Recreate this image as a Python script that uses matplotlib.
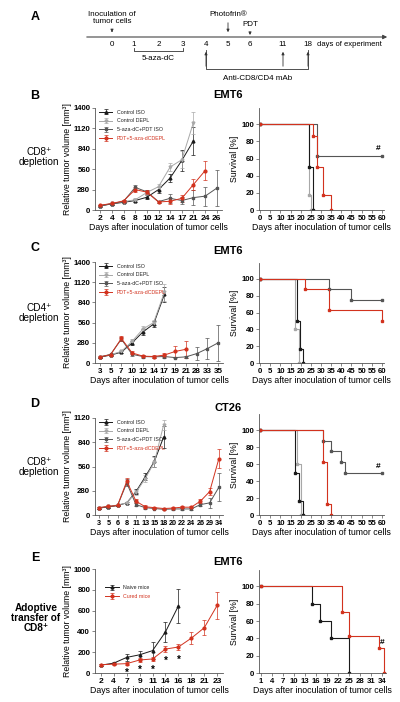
import numpy as np
import matplotlib.pyplot as plt

plt.rcParams['font.family'] = ['Liberation Sans', 'DejaVu Sans']
plt.rcParams['font.weight'] = 'bold'

W, H = 400, 702

# ---------------- data ----------------
# panel A timeline
tl_days = ['0', '1', '2', '3', '4', '5', '6', '11', '18']

# panel B (EMT6, CD8 depletion)
b_days = [2, 4, 6, 8, 10, 12, 14, 17, 21, 24, 26]
b_ctrl_iso = [55, 85, 105, 130, 175, 280, 440, 680, 950]
b_ctrl_iso_err = [10, 10, 15, 20, 25, 40, 60, 150, 190]
b_ctrl_depl = [60, 90, 115, 140, 240, 320, 590, 690, 1200]
b_ctrl_depl_err = [10, 10, 15, 20, 30, 40, 60, 120, 150]
b_aza_iso = [60, 85, 120, 310, 250, 115, 160, 130, 170, 190, 300]
b_aza_iso_err = [10, 10, 15, 30, 30, 15, 60, 50, 100, 130, 250]
b_aza_depl = [65, 90, 125, 280, 245, 110, 120, 160, 350, 540]
b_aza_depl_err = [10, 10, 15, 30, 30, 15, 40, 50, 80, 135]

# panel C (EMT6, CD4 depletion)
c_days = [3, 5, 7, 10, 12, 14, 17, 19, 21, 28, 33, 35]
c_ctrl_iso = [80, 110, 150, 280, 430, 540, 950]
c_ctrl_iso_err = [10, 10, 15, 30, 40, 40, 100]
c_ctrl_depl = [90, 115, 160, 300, 470, 560, 980]
c_ctrl_depl_err = [10, 10, 15, 30, 40, 40, 120]
c_aza_iso = [80, 120, 330, 120, 90, 85, 90, 75, 85, 130, 200, 280]
c_aza_iso_err = [10, 10, 30, 20, 15, 15, 15, 10, 15, 90, 150, 250]
c_aza_depl = [85, 115, 340, 140, 95, 90, 110, 160, 190]
c_aza_depl_err = [10, 10, 30, 20, 15, 15, 30, 80, 115]

# panel D (CT26, CD8 depletion)
d_days = [3, 5, 6, 8, 11, 13, 15, 18, 20, 22, 24, 26, 29, 34]
d_ctrl_iso = [80, 95, 110, 140, 270, 440, 620, 900]
d_ctrl_iso_err = [10, 10, 10, 15, 30, 40, 60, 130]
d_ctrl_depl = [85, 100, 115, 140, 260, 420, 610, 1040]
d_ctrl_depl_err = [10, 10, 10, 15, 30, 40, 60, 60]
d_aza_iso = [80, 95, 110, 370, 120, 85, 75, 65, 70, 70, 70, 120, 140, 320]
d_aza_iso_err = [10, 10, 10, 40, 20, 15, 10, 10, 10, 10, 10, 20, 60, 160]
d_aza_depl = [85, 100, 110, 390, 160, 95, 85, 75, 80, 90, 90, 160, 270, 650]
d_aza_depl_err = [10, 10, 10, 40, 20, 15, 10, 10, 10, 10, 10, 20, 40, 110]

# panel E (EMT6, adoptive transfer)
e_days = [2, 4, 7, 9, 11, 14, 16, 18, 21, 23]
e_naive = [75, 95, 150, 175, 215, 395, 645]
e_naive_err = [10, 10, 30, 40, 80, 100, 165]
e_cured = [80, 85, 90, 125, 135, 230, 250, 335, 435, 650]
e_cured_err = [10, 10, 15, 20, 20, 25, 30, 60, 70, 130]
e_star_idx = [2, 3, 4, 5, 6]
e_star_y = [50, 75, 80, 165, 170]

# survival curves: (days, percent)
sb = {
    'ctrl_iso': ([0, 24, 26], [100, 50, 0]),
    'ctrl_depl': ([0, 24, 25], [100, 17, 0]),
    'aza_iso': ([0, 28, 60], [100, 62.5, 62.5]),
    'aza_depl': ([0, 26, 28, 31, 35], [100, 86, 50, 17, 0]),
}
sc = {
    'ctrl_iso': ([0, 18, 19.5, 21], [100, 50, 17, 0]),
    'ctrl_depl': ([0, 17, 19], [100, 40, 0]),
    'aza_iso': ([0, 34, 45, 60], [100, 87.5, 75, 75]),
    'aza_depl': ([0, 22, 34, 60], [100, 87.5, 62.5, 50]),
}
sd = {
    'ctrl_iso': ([0, 17, 19, 21], [100, 50, 17, 0]),
    'ctrl_depl': ([0, 18, 20], [100, 60, 0]),
    'aza_iso': ([0, 31, 35, 40, 42, 60], [100, 87.5, 75, 62.5, 50, 50]),
    'aza_depl': ([0, 31, 33, 35], [100, 62.5, 12.5, 0]),
}
se_naive = ([1, 15, 17, 20, 25], [100, 80, 60, 40, 0])
se_cured = ([1, 23, 25, 33, 34.5], [100, 71, 43, 29, 0])

C_ISO = '#1a1a1a'
C_DEPL = '#a8a8a8'
C_AZA = '#555555'
RED = '#d2321e'

labels4 = ['Control ISO', 'Control DEPL', '5-aza-dC+PDT ISO', 'PDT+5-aza-dCDEPL']


def frac(x0, y0, x1, y1):
    return [x0 / W, 1 - y1 / H, (x1 - x0) / W, (y1 - y0) / H]


def style(ax):
    for s in ['top', 'right']:
        ax.spines[s].set_visible(False)
    for s in ['left', 'bottom']:
        ax.spines[s].set_linewidth(0.6)
        ax.spines[s].set_color('#555555')
    ax.tick_params(labelsize=5.6, length=2, width=0.5, pad=1.5, color='#555555')


def tumor(ax, days, series, ymax, ystep, legend_anchor=(0.0, 1.02), xsize=6):
    idx = np.arange(len(days))
    for y, e, c, m, lab in series:
        n = len(y)
        ax.errorbar(idx[:n], y, yerr=e, color=c, marker=m, ms=2, lw=0.7,
                    elinewidth=0.5, capsize=1.2, capthick=0.5, label=lab)
    ax.set_xticks(idx)
    ax.set_xticklabels([str(d) for d in days])
    ax.set_xlim(-0.45, len(days) - 0.55)
    ax.set_ylim(0, ymax)
    ax.set_yticks(np.arange(0, ymax + 1, ystep))
    ax.set_xlabel('Days after inoculation of tumor cells', fontsize=6.3, labelpad=1)
    ax.set_ylabel('Relative tumor volume [mm³]', fontsize=6.3, labelpad=1)
    style(ax)
    ax.tick_params(axis='x', labelsize=xsize)
    leg = ax.legend(loc='upper left', bbox_to_anchor=legend_anchor, frameon=False,
                    fontsize=3.8, handlelength=2.6, labelspacing=0.7, borderaxespad=0.3)
    for t, s in zip(leg.get_texts(), series):
        t.set_color(RED if s[2] == RED else '#222222')
        t.set_fontweight('normal')


def survival(ax, curves, xticks, xlim):
    for (t, s), c in curves:
        ax.step(t, s, where='post', color=c, lw=0.8)
        ax.plot(t, s, ls='none', marker='s', ms=1.6, color=c)
    ax.set_xlim(*xlim)
    ax.set_ylim(0, 119)
    ax.set_yticks(np.arange(0, 101, 20))
    ax.set_xticks(xticks)
    ax.set_xlabel('Days after inoculation of tumor cells', fontsize=6.3, labelpad=1)
    ax.set_ylabel('Survival [%]', fontsize=6.3, labelpad=2)
    style(ax)


fig = plt.figure(figsize=(W / 100, H / 100), dpi=100)

# annotation layer in pixel coordinates
ann = fig.add_axes([0, 0, 1, 1])
ann.set_xlim(0, W)
ann.set_ylim(H, 0)
ann.axis('off')

# ---- panel A timeline ----
tl_x = [112, 134, 159, 183, 206, 228, 250, 283, 308]
ann.text(35, 17, 'A', fontsize=9, ha='center', va='center')
ann.annotate('', xy=(390, 37), xytext=(84, 37),
             arrowprops=dict(arrowstyle='-|>', lw=0.8, color='#444444', mutation_scale=6))
for d, x in zip(tl_days, tl_x):
    ann.text(x, 45, d, fontsize=5.8, ha='center', va='center', fontweight='normal')
ann.text(317, 45, 'days of experiment', fontsize=5.5, ha='left', va='center', fontweight='normal')
ann.text(112, 18, 'Inoculation of\ntumor cells', fontsize=5.8, ha='center', va='center',
         fontweight='normal', linespacing=1.1)
ann.text(228, 15, 'Photofrin®', fontsize=5.8, ha='center', va='center', fontweight='normal')
ann.text(250, 25, 'PDT', fontsize=5.8, ha='center', va='center', fontweight='normal')
arr = dict(arrowstyle='-|>', lw=0.6, color='#333333', mutation_scale=4)
ann.annotate('', xy=(112, 35), xytext=(112, 28), arrowprops=arr)
ann.annotate('', xy=(228, 35), xytext=(228, 20), arrowprops=arr)
ann.annotate('', xy=(250, 35), xytext=(250, 30), arrowprops=arr)
ann.plot([134, 134, 183, 183], [48, 51, 51, 48], color='#333333', lw=0.6)
ann.text(158, 58, '5-aza-dC', fontsize=5.8, ha='center', va='center', fontweight='normal')
ann.plot([206, 206, 308, 308], [50, 69, 69, 50], color='#333333', lw=0.6)
for x in [206, 283, 308]:
    ann.annotate('', xy=(x, 49), xytext=(x, 69), arrowprops=arr)
ann.text(258, 78, 'Anti-CD8/CD4 mAb', fontsize=5.8, ha='center', va='center', fontweight='normal')

# ---- panel letters and titles ----
for letter, y, title, ty in [('B', 96, 'EMT6', 95), ('C', 248, 'EMT6', 251),
                             ('D', 404, 'CT26', 408), ('E', 558, 'EMT6', 562)]:
    ann.text(35, y, letter, fontsize=9, ha='center', va='center')
    ann.text(228, ty, title, fontsize=8, ha='center', va='center')

row_kw = dict(fontsize=7.2, ha='center', va='center', linespacing=1.05)
ann.text(39, 157, 'CD8⁺\ndepletion', fontweight='normal', **row_kw)
ann.text(39, 313, 'CD4⁺\ndepletion', fontweight='normal', **row_kw)
ann.text(39, 467, 'CD8⁺\ndepletion', fontweight='normal', **row_kw)
ann.text(36, 618, 'Adoptive\ntransfer of\nCD8⁺', **row_kw)

# ---- B ----
ax = fig.add_axes(frac(95, 108, 222, 210))
tumor(ax, b_days, [
    (b_ctrl_iso, b_ctrl_iso_err, C_ISO, '^', labels4[0]),
    (b_ctrl_depl, b_ctrl_depl_err, C_DEPL, 'v', labels4[1]),
    (b_aza_iso, b_aza_iso_err, C_AZA, 's', labels4[2]),
    (b_aza_depl, b_aza_depl_err, RED, 'o', labels4[3]),
], 1400, 280)
ax = fig.add_axes(frac(259, 108, 384, 210))
survival(ax, [(sb['ctrl_depl'], C_DEPL), (sb['ctrl_iso'], C_ISO),
              (sb['aza_iso'], C_AZA), (sb['aza_depl'], RED)],
         np.arange(0, 61, 5), (-0.5, 61))
ax.text(58, 68, '#', fontsize=6, ha='center', va='bottom')

# ---- C ----
ax = fig.add_axes(frac(95, 262, 223, 363))
tumor(ax, c_days, [
    (c_ctrl_iso, c_ctrl_iso_err, C_ISO, '^', labels4[0]),
    (c_ctrl_depl, c_ctrl_depl_err, C_DEPL, 'v', labels4[1]),
    (c_aza_iso, c_aza_iso_err, C_AZA, 's', labels4[2]),
    (c_aza_depl, c_aza_depl_err, RED, 'o', labels4[3]),
], 1400, 280, xsize=5.8)
ax = fig.add_axes(frac(259, 263, 384, 363))
survival(ax, [(sc['ctrl_depl'], C_DEPL), (sc['ctrl_iso'], C_ISO),
              (sc['aza_iso'], C_AZA), (sc['aza_depl'], RED)],
         np.arange(0, 61, 5), (-0.5, 61))

# ---- D ----
ax = fig.add_axes(frac(95, 418, 223, 515))
tumor(ax, d_days, [
    (d_ctrl_iso, d_ctrl_iso_err, C_ISO, '^', labels4[0]),
    (d_ctrl_depl, d_ctrl_depl_err, C_DEPL, 'v', labels4[1]),
    (d_aza_iso, d_aza_iso_err, C_AZA, 's', labels4[2]),
    (d_aza_depl, d_aza_depl_err, RED, 'o', labels4[3]),
], 1120, 280, xsize=5.2)
ax = fig.add_axes(frac(259, 414, 384, 515))
survival(ax, [(sd['ctrl_depl'], C_DEPL), (sd['ctrl_iso'], C_ISO),
              (sd['aza_iso'], C_AZA), (sd['aza_depl'], RED)],
         np.arange(0, 61, 5), (-0.5, 61))
ax.text(58, 53, '#', fontsize=6, ha='center', va='bottom')

# ---- E ----
ax = fig.add_axes(frac(95, 569, 223, 673))
tumor(ax, e_days, [
    (e_naive, e_naive_err, C_ISO, '^', 'Naive mice'),
    (e_cured, e_cured_err, RED, 'o', 'Cured mice'),
], 1000, 200, legend_anchor=(0.05, 0.88))
for i, y in zip(e_star_idx, e_star_y):
    ax.text(i, y, '*', fontsize=7, ha='center', va='top')
ax = fig.add_axes(frac(259, 570, 386, 673))
survival(ax, [(se_naive, C_ISO), (se_cured, RED)], np.arange(1, 35, 3), (0.5, 35))
ax.text(34, 31, '#', fontsize=6, ha='center', va='bottom')

fig.savefig('out.png', dpi=100)
